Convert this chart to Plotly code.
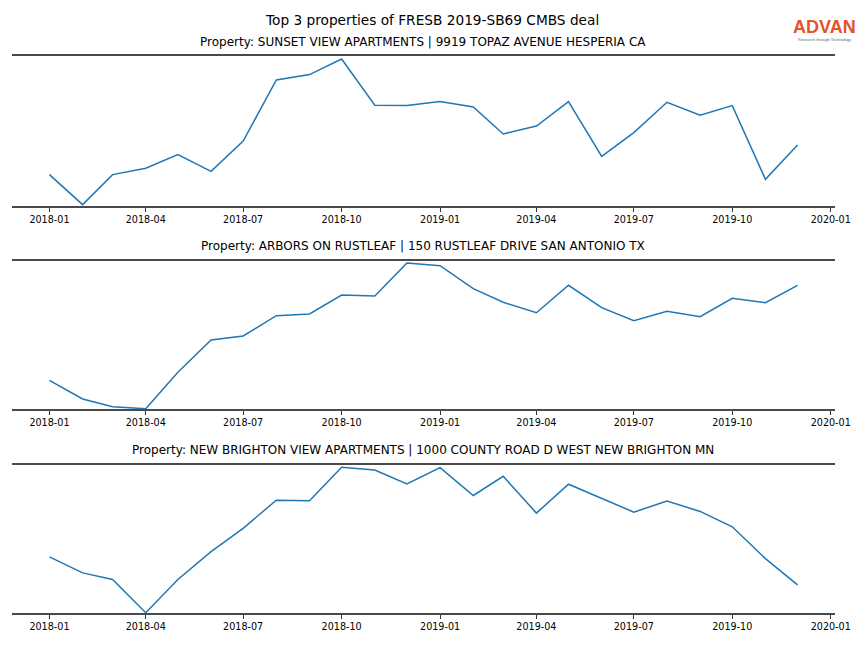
import plotly.graph_objects as go
from plotly.subplots import make_subplots

months = [f"{y}-{m:02d}-01" for y in (2018, 2019) for m in range(1, 13)]

titles = [
    "Property: SUNSET VIEW APARTMENTS | 9919 TOPAZ AVENUE HESPERIA CA",
    "Property: ARBORS ON RUSTLEAF | 150 RUSTLEAF DRIVE SAN ANTONIO TX",
    "Property: NEW BRIGHTON VIEW APARTMENTS | 1000 COUNTY ROAD D WEST NEW BRIGHTON MN",
]

sunset = [32.4, 2.4, 32.4, 38.7, 52.4, 35.7, 66.0, 127.0, 132.4, 148.0, 101.7, 101.4,
          105.4, 100.0, 73.0, 81.0, 105.4, 50.7, 74.4, 104.7, 91.7, 101.4, 27.7, 62.0]
arbors = [29.7, 11.0, 3.3, 1.3, 37.7, 70.0, 74.0, 94.3, 96.0, 115.0, 114.0, 147.0,
          144.3, 121.3, 107.7, 97.3, 124.7, 102.3, 89.3, 98.7, 93.3, 111.7, 107.3, 124.7]
brighton = [57.3, 41.3, 34.6, 1.3, 34.6, 62.6, 86.0, 114.3, 113.6, 147.3, 144.6, 130.6,
            147.0, 119.0, 138.3, 101.3, 130.3, 116.0, 102.3, 113.3, 103.0, 87.6, 55.6, 29.3]
series = [sunset, arbors, brighton]
y_ranges = [[0, 152], [0, 150], [0, 150.6]]

# page body has an 8px margin, so the figure is drawn 8px in from the window edge
OFF = 8
W, H = 864 - OFF, 648 - OFF
ML, MR, MT, MB = 12 - OFF, 29, 55 - OFF, 34
pw = W - ML - MR
ph = H - MT - MB

def py(pix):
    return (H - MB - (pix - OFF)) / ph

def px(pix):
    return ((pix - OFF) - ML) / pw

domains = [[py(207), py(55)], [py(410), py(260)], [py(614), py(464)]]
title_pix = [42, 246, 450]

fig = make_subplots(rows=3, cols=1)
font_family = "DejaVu Sans"
for i, vals in enumerate(series):
    r = i + 1
    fig.add_trace(go.Scatter(x=months, y=vals, mode="lines",
                             line=dict(color="#1f77b4", width=1.5),
                             showlegend=False), row=r, col=1)
    xa = "xaxis" if r == 1 else f"xaxis{r}"
    ya = "yaxis" if r == 1 else f"yaxis{r}"
    fig.layout[xa].update(
        domain=[0, 1], range=["2017-11-27", "2020-01-05"],
        tickformat="%Y-%m", dtick="M3", tick0="2018-01-01",
        ticks="outside", ticklen=3.5, tickwidth=0.8, tickcolor="#333333",
        showgrid=False, zeroline=False, showline=False,
        tickfont=dict(family=font_family, size=9.6, color="black"))
    fig.layout[ya].update(domain=domains[i], range=y_ranges[i], visible=False)
    xr = "x" if r == 1 else f"x{r}"
    yr = "y" if r == 1 else f"y{r}"
    for yy in (0, 1):
        fig.add_shape(type="line", xref=f"{xr} domain", yref=f"{yr} domain",
                      x0=0, x1=1, y0=yy, y1=yy,
                      line=dict(color="#4a4a4a", width=2))
    fig.add_annotation(text=titles[i], xref="paper", yref="paper",
                       x=px(423), y=py(title_pix[i]), xanchor="center", yanchor="middle",
                       showarrow=False, font=dict(family=font_family, size=12, color="black"))

fig.add_annotation(text="Top 3 properties of FRESB 2019-SB69 CMBS deal",
                   xref="paper", yref="paper", x=px(432), y=py(20),
                   xanchor="center", yanchor="middle", showarrow=False,
                   font=dict(family=font_family, size=13.7, color="black"))
fig.add_annotation(text="<b>ADVAN</b>", xref="paper", yref="paper",
                   x=px(824), y=py(27), xanchor="center", yanchor="middle",
                   showarrow=False, font=dict(family="Liberation Sans", size=18, color="#e2542a"))
fig.add_annotation(text="Research through Technology", xref="paper", yref="paper",
                   x=px(824), y=py(39), xanchor="center", yanchor="middle",
                   showarrow=False, font=dict(family="Liberation Sans", size=4, color="#666666"))

fig.update_layout(width=W, height=H, margin=dict(l=ML, r=MR, t=MT, b=MB),
                  plot_bgcolor="white", paper_bgcolor="white")
fig.write_html("out.html")
